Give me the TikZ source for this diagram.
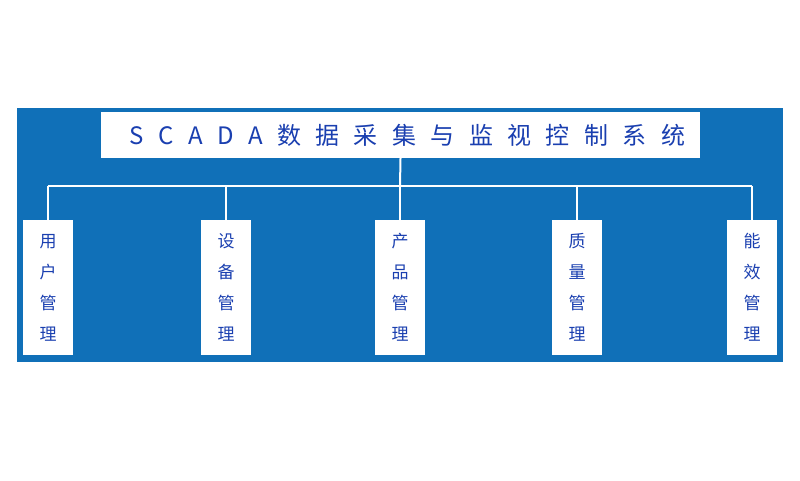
\documentclass[tikz,border=0pt]{standalone}
\usepackage{fontspec}
\newfontfamily\cjk{Noto Sans CJK SC}
\newfontfamily\cjkls[LetterSpace=60]{Noto Sans CJK SC}
\definecolor{bg}{HTML}{1070B8}
\definecolor{tx}{HTML}{1A3FB0}
\begin{document}
\begin{tikzpicture}[x=1pt,y=-1pt,
  leaf/.style={fill=white,minimum width=50pt,minimum height=135pt,inner sep=0pt,anchor=north,font=\cjk\fontsize{17}{31}\selectfont,text=tx,align=center},
  wire/.style={white,line width=2pt}]
\useasboundingbox (0,0) rectangle (800,480);
\fill[bg] (17,108) rectangle (783,362);
\node[fill=white,minimum width=599pt,minimum height=46pt,inner sep=0pt,text=tx,font=\cjkls\fontsize{24}{26}\selectfont] (t) at (400.5,135) {\hspace*{14pt}SCADA数据采集与监视控制系统};
\coordinate (j) at (400,186);
\foreach \n/\x/\s in {a/48/用\\户\\管\\理, b/226/设\\备\\管\\理, c/400/产\\品\\管\\理, d/577/质\\量\\管\\理, e/752/能\\效\\管\\理}{
  \node[leaf] (\n) at (\x,220) {\s};
  \draw[wire] (\n.north) -- (\x,186);
}
\draw[wire] (t.south) -- (j);
\draw[wire] (a.north|-j) -- (e.north|-j);
\end{tikzpicture}
\end{document}
